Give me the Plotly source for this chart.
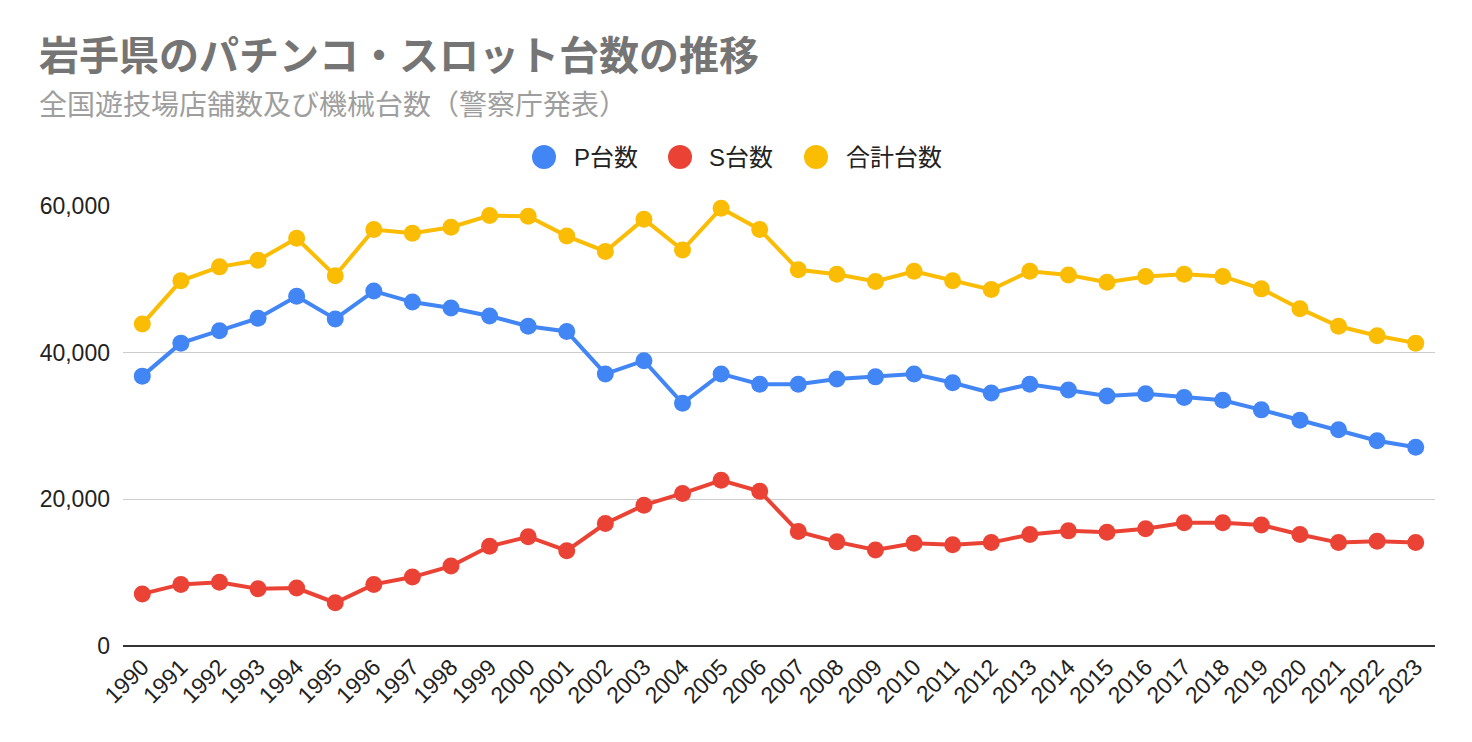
import plotly.graph_objects as go

years = [str(y) for y in range(1990, 2024)]
p_units = [36800, 41300, 43000, 44700, 47700, 44600, 48400, 46900, 46100, 45000,
           43600, 42900, 37100, 38900, 33100, 37100, 35700, 35700, 36400, 36700,
           37100, 35900, 34500, 35700, 34900, 34100, 34400, 33900, 33500, 32200,
           30800, 29500, 28000, 27100]
s_units = [7100, 8400, 8700, 7800, 7900, 5900, 8400, 9400, 10900, 13600,
           14900, 13000, 16700, 19200, 20800, 22600, 21100, 15600, 14200, 13100,
           14000, 13800, 14100, 15200, 15700, 15500, 16000, 16800, 16800, 16500,
           15200, 14100, 14300, 14100]
total_units = [43900, 49800, 51700, 52600, 55600, 50500, 56800, 56300, 57100, 58700,
               58600, 55900, 53800, 58200, 54000, 59700, 56800, 51300, 50700, 49700,
               51100, 49800, 48600, 51100, 50600, 49600, 50400, 50700, 50400, 48700,
               46000, 43600, 42300, 41300]

series_names = ["P台数", "S台数", "合計台数"]
series_values = [p_units, s_units, total_units]
series_colors = ["#4285F4", "#EA4335", "#FBBC04"]

title_text = "岩手県のパチンコ・スロット台数の推移"
subtitle_text = "全国遊技場店舗数及び機械台数（警察庁発表）"

# the page body adds an 8px offset; compensate so page pixels match
OFF = 8
W, H = 1472 - OFF, 742 - OFF
ML, MT = 123 - OFF, 206 - OFF
MR, MB = 37, 96
PW = W - ML - MR
PH = H - MT - MB

def px_to_paper_x(px):
    return (px - OFF - ML) / PW

def px_to_paper_y(py):
    return (H - MB - (py - OFF)) / PH

fig = go.Figure()
for name, vals, col in zip(series_names, series_values, series_colors):
    fig.add_trace(go.Scatter(
        x=years, y=vals, name=name, mode="lines+markers",
        line=dict(color=col, width=4),
        marker=dict(color=col, size=17),
        cliponaxis=False, showlegend=False,
    ))

font_cjk = "Arial, 'Liberation Sans', 'Noto Sans CJK JP', sans-serif"

annotations = [
    dict(text="<b>" + title_text + "</b>", xref="paper", yref="paper",
         x=px_to_paper_x(37), y=px_to_paper_y(53), xanchor="left", yanchor="middle",
         showarrow=False, font=dict(family="'Noto Sans CJK JP', sans-serif", size=40, color="#757575")),
    dict(text=subtitle_text, xref="paper", yref="paper",
         x=px_to_paper_x(37), y=px_to_paper_y(103), xanchor="left", yanchor="middle",
         showarrow=False, font=dict(family="'Noto Sans CJK JP', sans-serif", size=28, color="#9E9E9E")),
]

shapes = []
legend_circle_x = [544, 680, 816]
legend_text_x = [572, 707, 844]
legend_y = 157
for name, col, cx, tx in zip(series_names, series_colors, legend_circle_x, legend_text_x):
    shapes.append(dict(type="circle", xref="paper", yref="paper",
                       xsizemode="pixel", ysizemode="pixel",
                       xanchor=px_to_paper_x(cx), yanchor=px_to_paper_y(legend_y),
                       x0=-12, x1=12, y0=-12, y1=12,
                       fillcolor=col, line=dict(width=0)))
    annotations.append(dict(text=name, xref="paper", yref="paper",
                            x=px_to_paper_x(tx), y=px_to_paper_y(legend_y),
                            xanchor="left", yanchor="middle", showarrow=False,
                            font=dict(family=font_cjk, size=24, color="#222222")))

fig.update_layout(
    width=W, height=H,
    margin=dict(l=ML, r=MR, t=MT, b=MB, autoexpand=False),
    paper_bgcolor="white", plot_bgcolor="white",
    showlegend=False,
    annotations=annotations,
    shapes=shapes,
    font=dict(family=font_cjk, color="#222222"),
    xaxis=dict(
        type="category", range=[-0.5, len(years) - 0.5], tickangle=-45,
        showgrid=False, zeroline=False, showline=False, ticks="",
        ticklabelstandoff=2,
        tickfont=dict(size=23, color="#222222", family="Arial, 'Liberation Sans', sans-serif"),
    ),
    yaxis=dict(
        range=[0, 60000], tickvals=[0, 20000, 40000, 60000], tickformat=",",
        showgrid=True, gridcolor="#CCCCCC", gridwidth=1,
        zeroline=True, zerolinecolor="#333333", zerolinewidth=2,
        showline=False, ticks="", ticklabelstandoff=12,
        tickfont=dict(size=23, color="#222222", family="Arial, 'Liberation Sans', sans-serif"),
    ),
)

fig.write_html("out.html")
